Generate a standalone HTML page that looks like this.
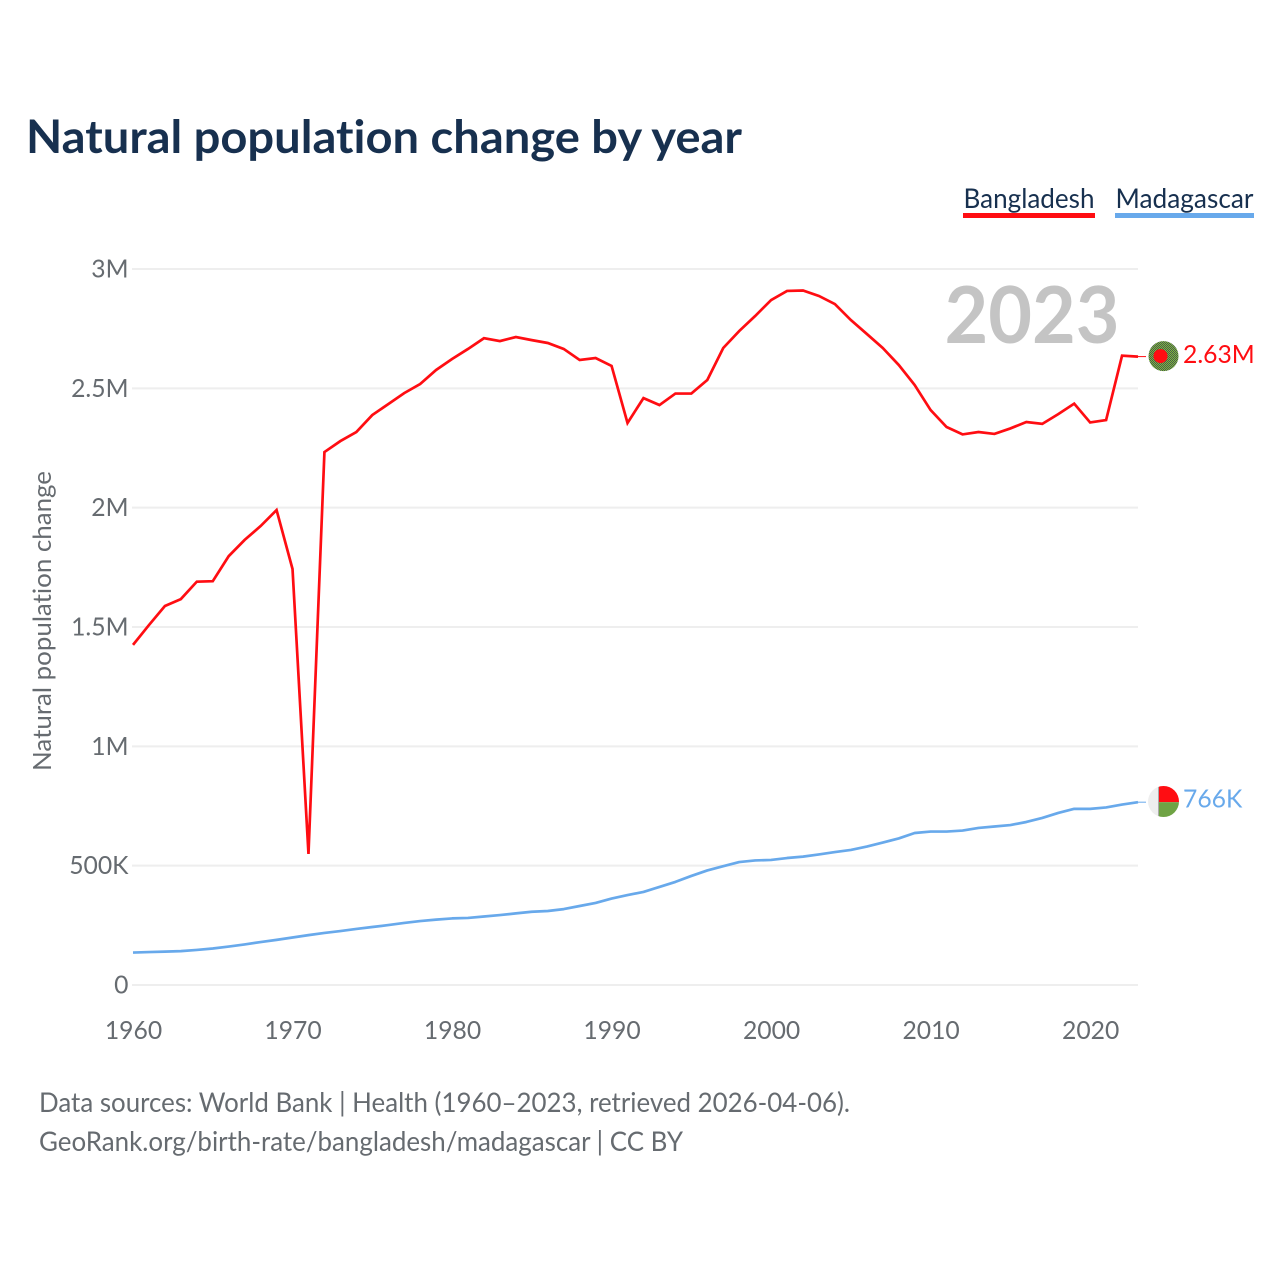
<!DOCTYPE html>
<html lang="en">
<head>
<meta charset="utf-8">
<title>Natural population change by year</title>
<style>
html,body{margin:0;padding:0;background:#fff;}
svg{display:block;}
text{font-family:"Lato","Carlito","Liberation Sans",sans-serif;font-variant-ligatures:none;}
</style>
</head>
<body>
<svg id="chart" xmlns="http://www.w3.org/2000/svg" width="1280" height="1280" viewBox="0 0 1280 1280">
  <defs>
    <pattern id="bd-dither" width="2" height="2" patternUnits="userSpaceOnUse">
      <rect width="2" height="2" fill="#80b93c"/>
      <rect width="1" height="1" fill="#47584f"/>
      <rect x="1" y="1" width="1" height="1" fill="#47584f"/>
    </pattern>
    <clipPath id="md-clip"><circle cx="1163.500" cy="801.500" r="15.500"/></clipPath>
  </defs>
  <rect width="1280" height="1280" fill="#ffffff"/>
  <text x="26" y="153" font-size="46" font-weight="700" fill="#17304f" textLength="716" lengthAdjust="spacingAndGlyphs">Natural population change by year</text>

  <g>
    <g>
      <text x="963.500" y="208" font-size="27" fill="#17304f" textLength="131" lengthAdjust="spacingAndGlyphs">Bangladesh</text>
      <rect x="963" y="213" width="132" height="5" fill="#ff0d12"/>
    </g>
    <g>
      <text x="1115.500" y="208" font-size="27" fill="#17304f" textLength="138" lengthAdjust="spacingAndGlyphs">Madagascar</text>
      <rect x="1115" y="213" width="139" height="5" fill="#68a9eb"/>
    </g>
  </g>

  <g id="grid"></g>
  <g id="y-ticks"></g>
  <g id="x-ticks"></g>
  <text transform="translate(51,621) rotate(-90)" text-anchor="middle" font-size="25" fill="#666b70" textLength="300" lengthAdjust="spacingAndGlyphs">Natural population change</text>
  <text x="944.500" y="343" font-size="79" font-weight="700" fill="#c4c4c4" textLength="175" lengthAdjust="spacingAndGlyphs">2023</text>

  <g id="series"></g>
  <g id="end-markers"></g>

  <g>
    <text x="39" y="1112" font-size="27" fill="#666b70" textLength="811" lengthAdjust="spacingAndGlyphs">Data sources: World Bank | Health (1960–2023, retrieved 2026-04-06).</text>
    <text x="39" y="1151" font-size="27" fill="#666b70" textLength="644" lengthAdjust="spacingAndGlyphs">GeoRank.org/birth-rate/bangladesh/madagascar | CC BY</text>
  </g>
</svg>
<script>
var startYear = 1960;
var endYear = 2023;
var xTickYears = [1960, 1970, 1980, 1990, 2000, 2010, 2020];
var yTickValues = [0, 500000, 1000000, 1500000, 2000000, 2500000, 3000000];
var yTickLabels = ['0', '500K', '1M', '1.5M', '2M', '2.5M', '3M'];
var bangladeshMillions = [
  1.425, 1.508, 1.588, 1.617, 1.690, 1.692, 1.797, 1.865, 1.923, 1.990,
  1.743, 0.549, 2.233, 2.279, 2.317, 2.388, 2.434, 2.480, 2.518, 2.577,
  2.623, 2.665, 2.710, 2.698, 2.715, 2.702, 2.690, 2.665, 2.619, 2.627,
  2.594, 2.355, 2.459, 2.430, 2.478, 2.478, 2.535, 2.669, 2.740, 2.803,
  2.870, 2.908, 2.910, 2.887, 2.853, 2.786, 2.728, 2.669, 2.598, 2.514,
  2.409, 2.338, 2.307, 2.317, 2.309, 2.332, 2.359, 2.351, 2.392, 2.436,
  2.357, 2.367, 2.637, 2.633
];
var madagascarThousands = [
  136, 138, 140, 142, 147, 153, 161, 170, 180, 189,
  199, 209, 218, 226, 235, 243, 251, 260, 268, 274,
  279, 281, 287, 293, 300, 307, 310, 318, 331, 344,
  362, 377, 390, 411, 432, 457, 480, 498, 515, 522,
  524, 532, 538, 547, 557, 566, 580, 597, 614, 637,
  643, 643, 647, 658, 664, 670, 683, 700, 721, 738,
  738, 744, 756, 766
];

var NS = 'http://www.w3.org/2000/svg';
var plotLeft = 133, plotRight = 1138, plotBottom = 985, plotTop = 269, yMax = 3000000;

function xScale(year) {
  return plotLeft + (year - startYear) / (endYear - startYear) * (plotRight - plotLeft);
}
function yScale(v) {
  return plotBottom - v / yMax * (plotBottom - plotTop);
}
function make(tag, parent, attrs) {
  var el = document.createElementNS(NS, tag);
  for (var k in attrs) { el.setAttribute(k, attrs[k]); }
  parent.appendChild(el);
  return el;
}
function formatValue(v) {
  if (v >= 1000000) { return (v / 1000000).toFixed(2) + 'M'; }
  return Math.round(v / 1000) + 'K';
}
function linePoints(values) {
  return values.map(function (v, i) {
    return xScale(startYear + i).toFixed(2) + ',' + yScale(v).toFixed(2);
  }).join(' ');
}

var gridGroup = document.getElementById('grid');
var yTickGroup = document.getElementById('y-ticks');
var xTickGroup = document.getElementById('x-ticks');
var seriesGroup = document.getElementById('series');
var markerGroup = document.getElementById('end-markers');

yTickValues.forEach(function (v, i) {
  var line = make('line', gridGroup, {x1: plotLeft - 1, x2: plotRight, y1: yScale(v), y2: yScale(v), stroke: '#eeeeee', 'stroke-width': 2});
  
  
  var label = make('text', yTickGroup, {x: 128.500, y: yScale(v) + 8.500, 'text-anchor': 'end', 'font-size': 24.700, fill: '#666b70'});
  
  
  label.textContent = yTickLabels[i];
});

xTickYears.forEach(function (year) {
  var label = make('text', xTickGroup, {x: xScale(year) + 0.500, y: 1039, 'text-anchor': 'middle', 'font-size': 24.700, fill: '#666b70'});
  
  
  label.textContent = String(year);
});

var bangladeshValues = bangladeshMillions.map(function (v) { return v * 1000000; });
var madagascarValues = madagascarThousands.map(function (v) { return v * 1000; });

var redLine = make('polyline', seriesGroup, {points: linePoints(bangladeshValues), fill: 'none', stroke: '#ff0d12', 'stroke-width': 2.700, 'stroke-linejoin': 'miter'});



var blueLine = make('polyline', seriesGroup, {points: linePoints(madagascarValues), fill: 'none', stroke: '#68a9eb', 'stroke-width': 2.700, 'stroke-linejoin': 'round'});



var bdLast = bangladeshValues[bangladeshValues.length - 1];
var mdLast = madagascarValues[madagascarValues.length - 1];

var bdConnector = make('line', markerGroup, {x1: plotRight, x2: plotRight + 8, y1: yScale(bdLast), y2: yScale(bdLast), stroke: '#ff0d12', 'stroke-width': 1});



var mdConnector = make('line', markerGroup, {x1: plotRight, x2: plotRight + 8, y1: yScale(mdLast), y2: yScale(mdLast), stroke: '#68a9eb', 'stroke-width': 1});



var bdY = yScale(bdLast) - 0.500;
var bdFlag = make('g', markerGroup, {});


make('circle', bdFlag, {cx: 1163.500, cy: bdY, r: 15, fill: 'url(#bd-dither)'});
make('circle', bdFlag, {cx: 1160.500, cy: bdY, r: 7, fill: '#ff0d12'});

var mdY = yScale(mdLast);
var mdFlag = make('g', markerGroup, {'clip-path': 'url(#md-clip)'});


make('rect', mdFlag, {x: 1148, y: mdY - 17, width: 10, height: 34, fill: '#eeeeee'});
make('rect', mdFlag, {x: 1158, y: mdY - 17, width: 1, height: 34, fill: '#aaaaaa'});
make('rect', mdFlag, {x: 1159, y: mdY - 17, width: 21, height: 17, fill: '#ff0d12'});
make('rect', mdFlag, {x: 1159, y: mdY, width: 21, height: 17, fill: '#6fa344'});

var bdLabel = make('text', markerGroup, {x: 1183, y: yScale(bdLast) + 6.500, 'font-size': 24.700, fill: '#ff0d12'});


bdLabel.textContent = formatValue(bdLast);

var mdLabel = make('text', markerGroup, {x: 1183, y: yScale(mdLast) + 5.500, 'font-size': 24.700, fill: '#68a9eb'});


mdLabel.textContent = formatValue(mdLast);
</script>
</body>
</html>
